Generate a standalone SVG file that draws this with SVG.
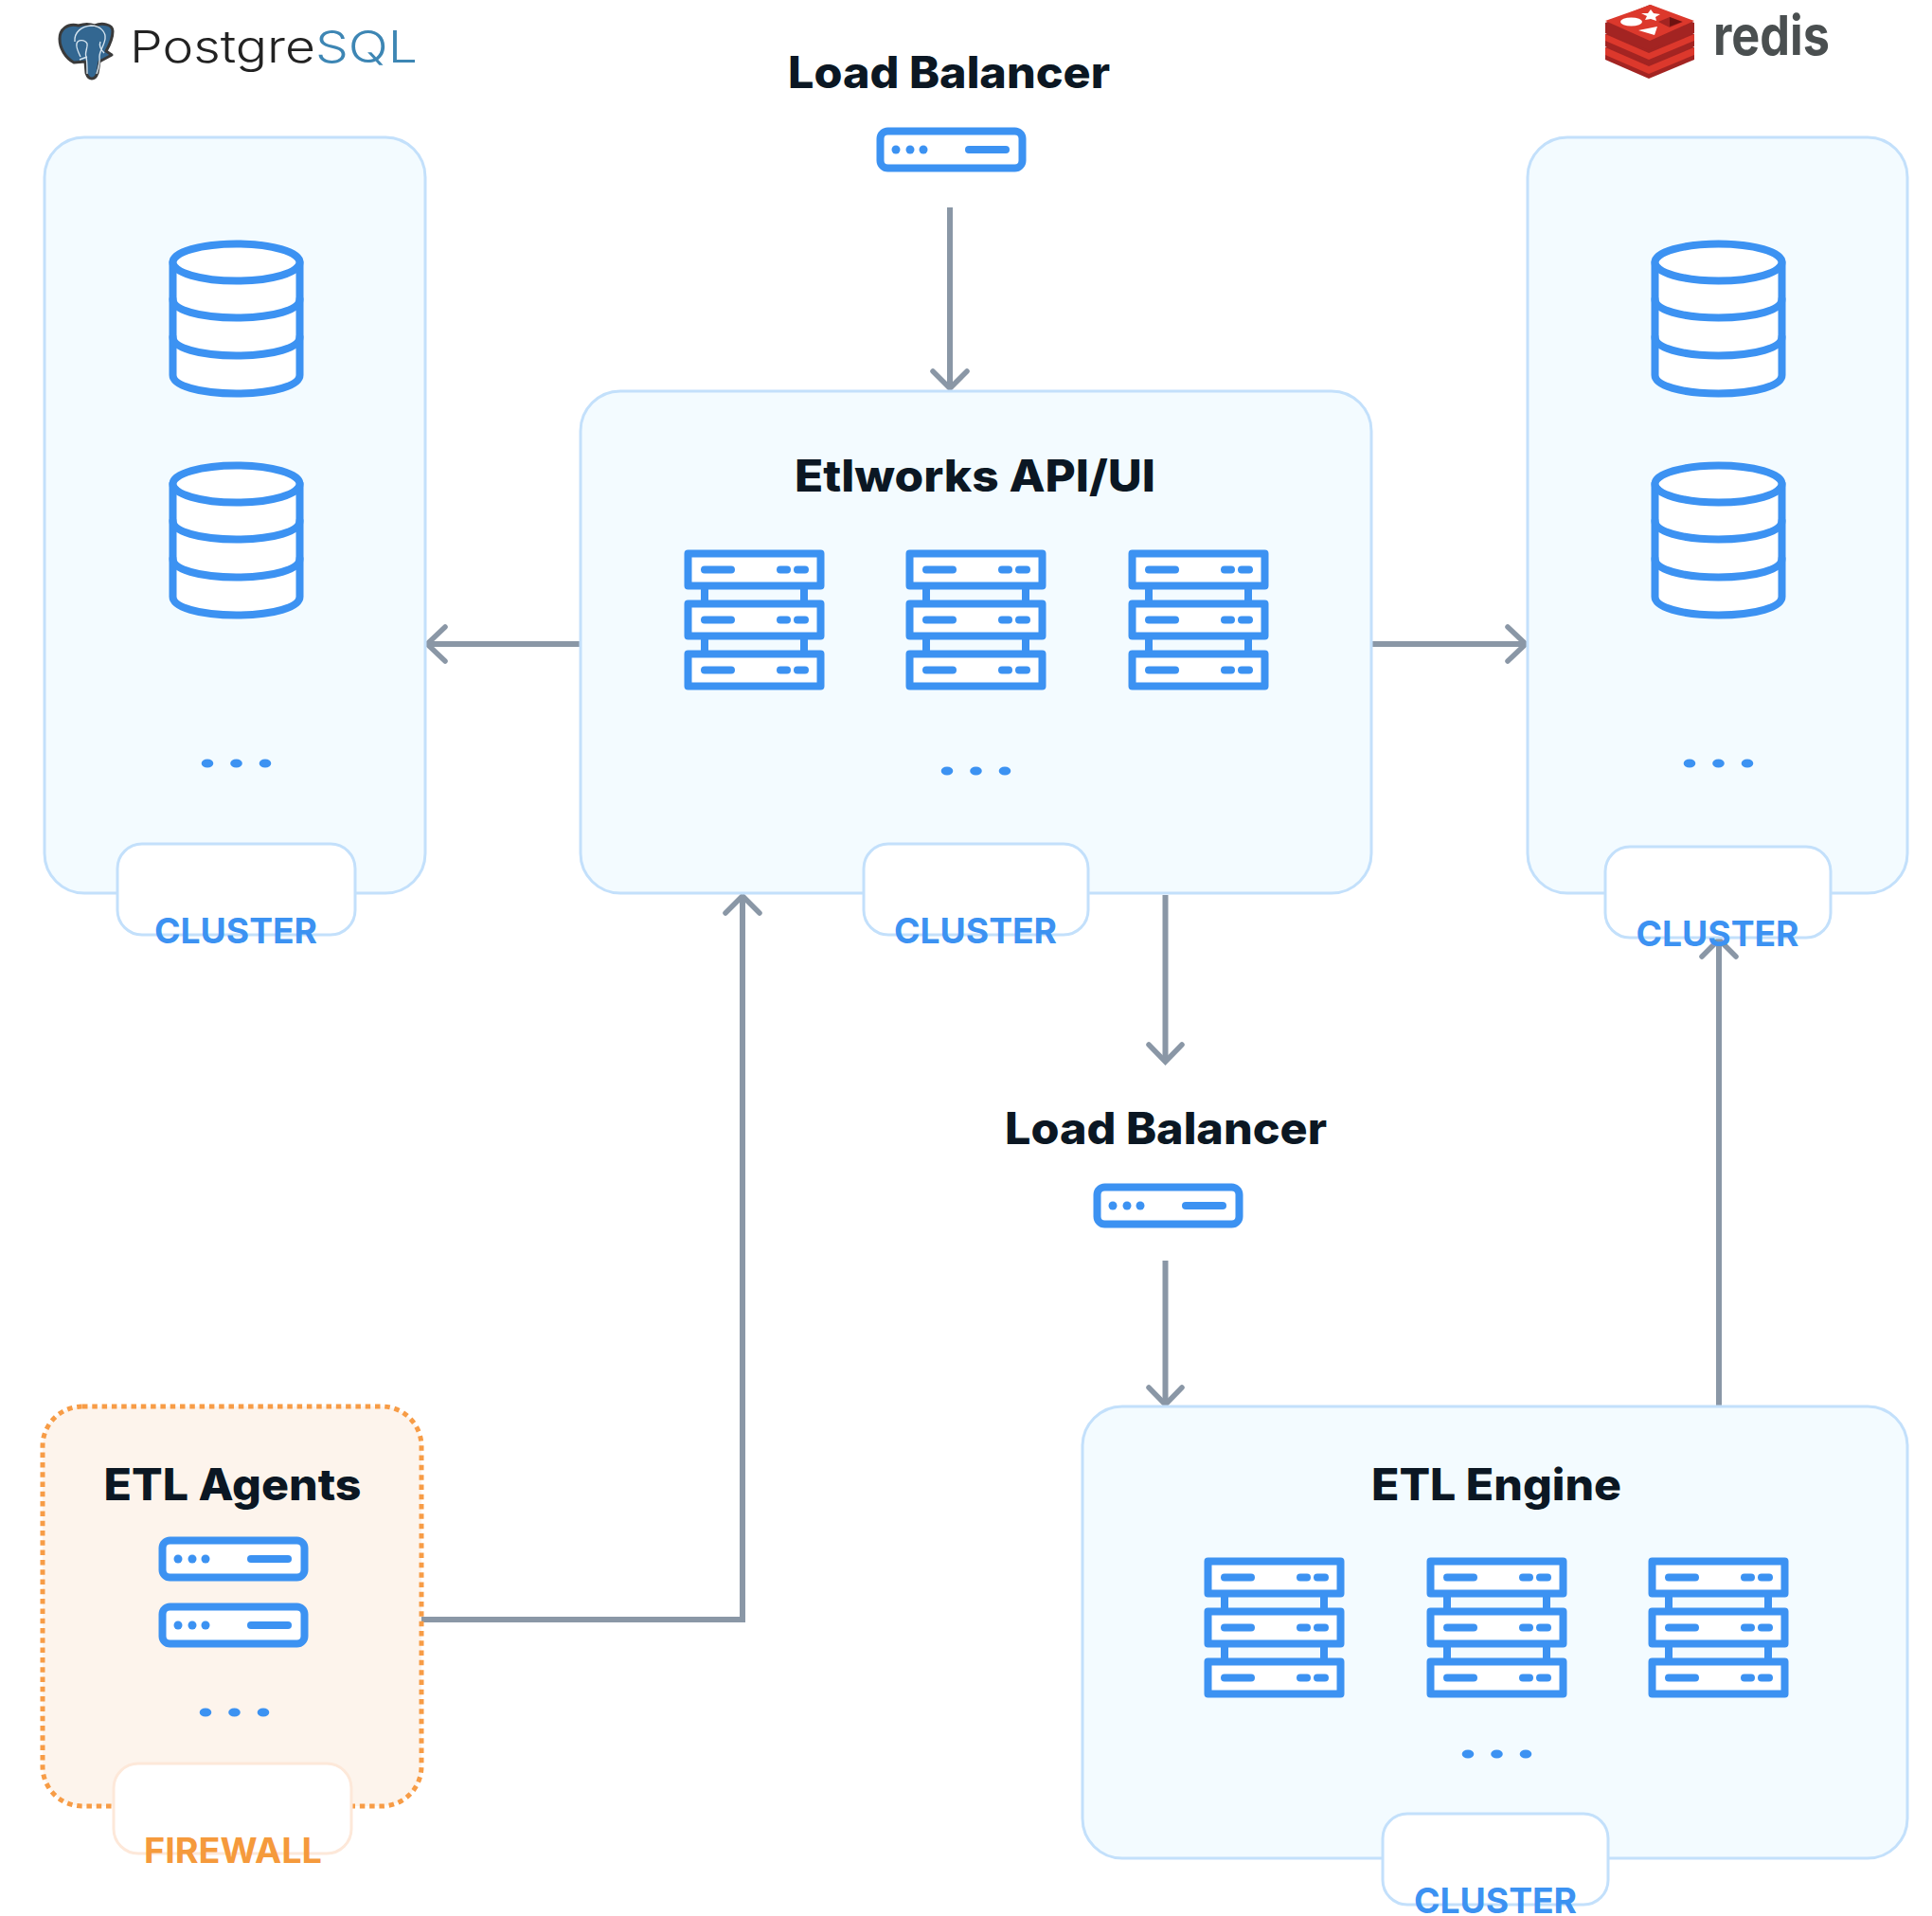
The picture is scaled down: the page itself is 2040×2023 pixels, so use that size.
<svg xmlns="http://www.w3.org/2000/svg" width="2040" height="2023" viewBox="0 0 2040 2023">
<style>
.panel{fill:#f3fbff;stroke:#c3e0fb;stroke-width:3}
.tab{fill:#fff;stroke:#c3e0fb;stroke-width:3}
.title{font:800 46px Inter,"Liberation Sans",sans-serif;fill:#0b1723;text-anchor:middle}
.lbl{font:700 37px Inter,"Liberation Sans",sans-serif;fill:#3c92f2;text-anchor:middle}
.ic{fill:#fff;stroke:#3c92f2;stroke-width:8;stroke-linejoin:round}
.ln{fill:none;stroke:#3c92f2;stroke-width:8;stroke-linecap:round}
.dot{fill:#3c92f2}
.cn{fill:none;stroke:#8a97a6;stroke-width:6}
.hd{fill:none;stroke:#8a97a6;stroke-width:5.500;stroke-linecap:round;stroke-linejoin:miter}
</style>
<defs>
<g id="rack">
<path class="ln" stroke-linecap="butt" d="M21 38V56M126 38V56M21 91V109M126 91V109"/>
<rect class="ic" x="3.500" y="3.500" width="140" height="34"/>
<rect class="ic" x="3.500" y="56.500" width="140" height="34"/>
<rect class="ic" x="3.500" y="109.500" width="140" height="34"/>
<path class="ln" d="M21 20.500H49M101 20.500H108M119 20.500H127M21 73.500H49M101 73.500H108M119 73.500H127M21 126.500H49M101 126.500H108M119 126.500H127"/>
</g>
<g id="lb">
<rect class="ic" x="3.500" y="3.500" width="150" height="39" rx="8"/>
<circle class="dot" cx="20" cy="23" r="4.500"/><circle class="dot" cx="35" cy="23" r="4.500"/><circle class="dot" cx="49" cy="23" r="4.500"/>
<path class="ln" stroke-width="7" d="M97 23H136"/>
</g>
<g id="db">
<path class="ic" d="M3.500 23V142C3.500 153 31 161.500 70.500 161.500S137.500 153 137.500 142V23Z"/>
<ellipse class="ic" cx="70.500" cy="23" rx="67" ry="19.500"/>
<path class="ln" d="M3.500 62C3.500 73 31 81.500 70.500 81.500S137.500 73 137.500 62M3.500 102C3.500 113 31 121.500 70.500 121.500S137.500 113 137.500 102"/>
</g>
<g id="dots"><ellipse class="dot" cx="0" cy="0" rx="6.300" ry="4.500"/><ellipse class="dot" cx="30.500" cy="0" rx="6.300" ry="4.500"/><ellipse class="dot" cx="61" cy="0" rx="6.300" ry="4.500"/></g>
</defs>
<rect width="2040" height="2023" fill="#fff"/>

<g id="connectors">
<path class="cn" d="M1003 219V408"/><path class="hd" d="M985 392L1003 410L1021 392"/>
<path class="cn" d="M613 680H452"/><path class="hd" d="M470 662L451 680L470 698"/>
<path class="cn" d="M1448 680H1609"/><path class="hd" d="M1592 662L1611 680L1592 698"/>
<path class="cn" d="M1230.500 945V1119"/><path class="hd" d="M1213 1103L1230.500 1121L1248 1103"/>
<path class="cn" d="M1230.500 1331V1481"/><path class="hd" d="M1213 1465L1230.500 1483L1248 1465"/>
<path class="cn" d="M1815 1484V995"/><path class="hd" d="M1797 1010L1815 992L1833 1010"/>
<path class="cn" d="M445 1710H784V948"/><path class="hd" d="M766 964L784 946L802 964"/>
</g>

<g id="postgres-logo">
<path fill="#336791" stroke="#3a3a3a" stroke-width="3" stroke-linejoin="round" d="M83 27C71 24 63 31 63 41C63 51 69 61 78 66L90 65L91 77Q93 83 97 83Q101 83 103 77L105 65L118 58L112 54C116 47 119 39 119 33C119 25 107 24 100 27Q92 24 83 27Z"/>
<path fill="none" stroke="#d5e4ef" stroke-width="1.400" d="M79 44C78 34 86 28 96 27C106 27 112 34 111 41C110 48 105 54 105 60C106 66 104 72 102 78M92 78C92 70 92 64 91 60C89 56 93 50 92 46C89 41 82 42 81 46C80 50 83 56 85 60M106 44C104 49 108 54 110 56M84 63L92 60"/>
<text x="137" y="66" font-family="Inter,'Liberation Sans',sans-serif" font-weight="350" font-size="47" textLength="304" lengthAdjust="spacingAndGlyphs"><tspan fill="#222">Postgre</tspan><tspan fill="#3d86b4">SQL</tspan></text>
</g>

<g id="redis-logo">
<path fill="#a32422" d="M1695 50L1742 31L1789 50V63L1741 83L1695 63Z"/>
<path fill="#dc382c" d="M1695 50L1741 70L1789 50V58L1741 78L1695 58Z"/>
<path fill="#a32422" d="M1695 36L1742 17L1789 36V49L1741 68L1695 49Z"/>
<path fill="#dc382c" d="M1695 36L1741 56L1789 36V43L1741 63L1695 43Z"/>
<path fill="#a32422" d="M1695 24V35L1741 53L1789 35V24L1742 5Z"/>
<path fill="#dc382c" d="M1695 22L1743 5L1789 22L1742 43Z"/>
<ellipse cx="1722.500" cy="23" rx="11.500" ry="4.500" fill="#fff"/>
<path fill="#fff" d="M1743 10L1746 14L1753 15L1748 18L1749 22L1743 20L1737 21L1739 17L1733 14L1740 14Z"/>
<path fill="#fff" d="M1730 32L1750 28L1747 37Z"/>
<path fill="#a32422" d="M1751 23L1763 18L1777 23L1763 29Z"/>
<path fill="#6d1210" d="M1763 18L1776 23L1763 28Z"/>
<text x="1809" y="58" font-family="Inter,'Noto Sans',sans-serif" font-weight="700" font-size="58" fill="#4a4f50" textLength="123" lengthAdjust="spacingAndGlyphs">redis</text>
</g>

<g id="lb-top">
<text class="title" x="1002" y="93" textLength="340" lengthAdjust="spacingAndGlyphs">Load Balancer</text>
<use href="#lb" x="926" y="135"/>
</g>

<g id="postgres-cluster">
<rect class="panel" x="47" y="145" width="402" height="798" rx="42"/>
<use href="#db" x="179" y="254"/>
<use href="#db" x="179" y="488"/>
<use href="#dots" x="219" y="806"/>
<rect class="tab" x="124" y="891" width="251" height="96" rx="26"/>
<text class="lbl" x="249" y="996" textLength="172" lengthAdjust="spacingAndGlyphs">CLUSTER</text>
</g>

<g id="api-cluster">
<rect class="panel" x="613" y="413" width="835" height="530" rx="42"/>
<text class="title" x="1029.500" y="519" textLength="381" lengthAdjust="spacingAndGlyphs">Etlworks API/UI</text>
<use href="#rack" x="723" y="581"/>
<use href="#rack" x="957" y="581"/>
<use href="#rack" x="1192" y="581"/>
<use href="#dots" x="1000" y="814"/>
<rect class="tab" x="912" y="891" width="237" height="96" rx="26"/>
<text class="lbl" x="1030" y="996" textLength="172" lengthAdjust="spacingAndGlyphs">CLUSTER</text>
</g>

<g id="redis-cluster">
<rect class="panel" x="1613" y="145" width="401" height="798" rx="42"/>
<use href="#db" x="1744" y="254"/>
<use href="#db" x="1744" y="488"/>
<use href="#dots" x="1784" y="806"/>
<rect class="tab" x="1695" y="894" width="238" height="96" rx="26"/>
<text class="lbl" x="1813.500" y="998.500" textLength="172" lengthAdjust="spacingAndGlyphs">CLUSTER</text>
</g>

<g id="lb-bottom">
<text class="title" x="1231" y="1208" textLength="340" lengthAdjust="spacingAndGlyphs">Load Balancer</text>
<use href="#lb" x="1155" y="1250"/>
</g>

<g id="etl-agents">
<rect x="45" y="1485" width="400" height="422" rx="42" fill="#fdf4ec" stroke="#f79c46" stroke-width="5" stroke-dasharray="5.500 4.800"/>
<text class="title" x="245.500" y="1584" textLength="272" lengthAdjust="spacingAndGlyphs">ETL Agents</text>
<use href="#lb" x="168" y="1623"/>
<use href="#lb" x="168" y="1693"/>
<use href="#dots" x="217" y="1808"/>
<rect x="120" y="1862" width="251" height="95" rx="26" fill="#fff" stroke="#fde8d9" stroke-width="3"/>
<text class="lbl" style="fill:#f59a3c" x="246" y="1967" textLength="188" lengthAdjust="spacingAndGlyphs">FIREWALL</text>
</g>

<g id="etl-engine">
<rect class="panel" x="1143" y="1485" width="871" height="477" rx="42"/>
<text class="title" x="1580" y="1584" textLength="264" lengthAdjust="spacingAndGlyphs">ETL Engine</text>
<use href="#rack" x="1272" y="1645"/>
<use href="#rack" x="1507" y="1645"/>
<use href="#rack" x="1741" y="1645"/>
<use href="#dots" x="1550" y="1852"/>
<rect class="tab" x="1460" y="1915" width="238" height="96" rx="26"/>
<text class="lbl" x="1579" y="2020" textLength="172" lengthAdjust="spacingAndGlyphs">CLUSTER</text>
</g>
</svg>
